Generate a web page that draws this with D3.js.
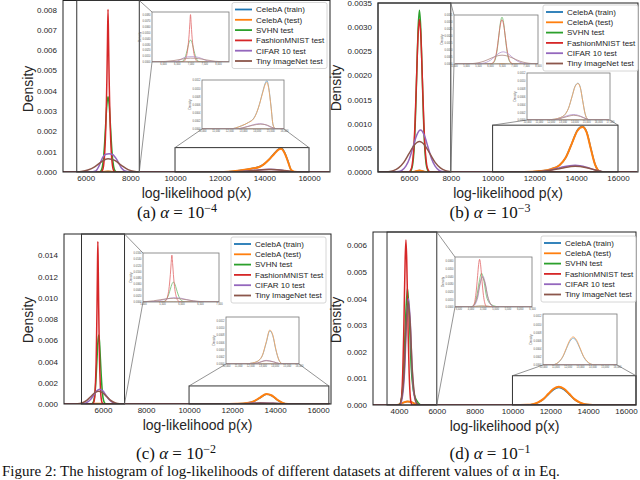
<!DOCTYPE html>
<html>
<head>
<meta charset="utf-8">
<script src="https://cdn.jsdelivr.net/npm/d3@7"></script>
<style>
  body { margin: 0; background: #fff; }
  svg { display: block; }
</style>
</head>
<body>
<svg id="fig" width="640" height="480"></svg>
<script>
// series (same order in every panel)
const names = ["CelebA (train)", "CelebA (test)", "SVHN test", "FashionMNIST test", "CIFAR 10 test", "Tiny ImageNet test"];
const colors = ["#1f77b4", "#ff7f0e", "#2ca02c", "#d62728", "#9467bd", "#8c564b"];
const alphaExps = ["−4", "−3", "−2", "−1"];
const letters = ["a", "b", "c", "d"];

// density curves, [log-likelihood, density]
// (a) alpha = 1e-4
const trainA = [[5000,0],[6700,0],[7000,0.00002],[7300,0],[12000,0],[12900,0.00008],[13400,0.00016],[13800,0.00027],[14000,0.0004],[14200,0.0006],[14450,0.00092],[14650,0.00114],[14750,0.00118],[14900,0.00098],[15050,0.00056],[15200,0.0001],[15350,0.00001],[15600,0],[16900,0]];
const testA = [[5000,0],[6700,0],[7000,0.00002],[7300,0],[12000,0],[12900,0.00008],[13400,0.00016],[13800,0.00026],[14000,0.0004],[14200,0.0006],[14450,0.0009],[14650,0.00111],[14750,0.00114],[14900,0.00095],[15050,0.00054],[15200,0.0001],[15350,0.00001],[15600,0],[16900,0]];
const svhnA = [[5000,0],[6600,0],[6650,0.00002],[6700,0.00009],[6750,0.00028],[6800,0.00071],[6850,0.00146],[6900,0.00245],[6950,0.00334],[7000,0.0037],[7050,0.00334],[7100,0.00245],[7150,0.00146],[7200,0.00071],[7250,0.00028],[7300,0.00009],[7350,0.00002],[7400,0],[16900,0]];
const fashionA = [[5000,0],[6680,0],[6740,0.00005],[6800,0.0003],[6850,0.0009],[6900,0.0022],[6925,0.0033],[6950,0.0046],[6975,0.0064],[7000,0.008],[7025,0.0064],[7050,0.0046],[7075,0.0033],[7100,0.0022],[7150,0.0009],[7200,0.0003],[7260,0.00005],[7320,0],[16900,0]];
const cifarA = [[5000,0],[6200,0],[6450,0.00005],[6600,0.0003],[6750,0.0007],[6900,0.00087],[7050,0.0009],[7200,0.00086],[7400,0.0006],[7600,0.0002],[7850,0.00002],[8100,0],[12500,0],[13000,0.00003],[13600,0.00009],[14200,0.00013],[14700,0.0001],[15100,0.00003],[15500,0],[16900,0]];
const tinyA = [[5000,0],[5500,0],[5800,0.00003],[6100,0.0001],[6400,0.00025],[6700,0.0005],[7000,0.00065],[7300,0.00057],[7600,0.00033],[7900,0.00012],[8200,0.00003],[8500,0],[12400,0],[13000,0.00003],[13700,0.00009],[14300,0.00012],[14800,0.00009],[15200,0.00003],[15600,0],[16900,0]];

// (b) alpha = 1e-3
const trainB = [[4550,0],[6200,0],[6500,0.00003],[6800,0],[11500,0],[12300,0.00002],[12800,0.00006],[13200,0.00014],[13500,0.0003],[13800,0.0006],[14050,0.00086],[14300,0.00094],[14500,0.00083],[14700,0.00049],[14900,0.00016],[15100,0.00002],[15300,0],[16900,0]];
const testB = [[4550,0],[6200,0],[6500,0.00003],[6800,0],[11500,0],[12300,0.00002],[12800,0.00006],[13200,0.00014],[13500,0.0003],[13800,0.0006],[14050,0.00085],[14300,0.00093],[14500,0.00082],[14700,0.00048],[14900,0.00016],[15100,0.00002],[15300,0],[16900,0]];
const svhnB = [[4550,0],[6050,0],[6110,0.00004],[6175,0.00015],[6240,0.00045],[6305,0.00109],[6370,0.00203],[6435,0.00296],[6500,0.00335],[6565,0.00296],[6630,0.00203],[6695,0.00109],[6760,0.00045],[6825,0.00015],[6890,0.00004],[6950,0],[16900,0]];
const fashionB = [[4550,0],[6000,0],[6080,0.00004],[6150,0.00014],[6220,0.00043],[6290,0.00103],[6360,0.00192],[6430,0.00279],[6500,0.00316],[6570,0.00279],[6640,0.00192],[6710,0.00103],[6780,0.00043],[6850,0.00014],[6920,0.00004],[7000,0],[16900,0]];
const cifarB = [[4550,0],[5350,0],[5500,0.00001],[5675,0.00004],[5850,0.00012],[6025,0.00028],[6200,0.00053],[6375,0.00077],[6550,0.00087],[6725,0.00077],[6900,0.00053],[7075,0.00028],[7250,0.00012],[7425,0.00004],[7600,0.00001],[7750,0],[12000,0],[12700,0.00003],[13300,0.0001],[13950,0.00014],[14500,0.0001],[15000,0.00003],[15400,0],[16900,0]];
const tinyB = [[4550,0],[4800,0.000002],[5000,0.000007],[5250,0.000028],[5500,0.000085],[5750,0.0002],[6000,0.00038],[6250,0.000556],[6500,0.00063],[6750,0.000556],[7000,0.00038],[7250,0.0002],[7500,0.000085],[7750,0.000028],[8000,0.000007],[8300,0],[12000,0],[12700,0.00003],[13300,0.00008],[13950,0.00012],[14500,0.00009],[15000,0.00003],[15400,0],[16900,0]];

// (c) alpha = 1e-2
const trainC = [[4200,0],[5500,0],[5800,0.00003],[6100,0],[11500,0],[12200,0.00003],[12700,0.0001],[13000,0.00024],[13300,0.00058],[13600,0.00092],[13850,0.00078],[14100,0.00039],[14350,0.00011],[14600,0.00001],[14800,0],[16550,0]];
const testC = [[4200,0],[5500,0],[5800,0.00003],[6100,0],[11500,0],[12200,0.00003],[12700,0.0001],[13000,0.00025],[13300,0.0006],[13600,0.00094],[13850,0.0008],[14100,0.0004],[14350,0.00011],[14600,0.00001],[14800,0],[16550,0]];
const svhnC = [[4200,0],[5440,0],[5500,0.00005],[5570,0.0003],[5630,0.0011],[5680,0.0026],[5720,0.0042],[5760,0.0058],[5800,0.0065],[5840,0.0058],[5880,0.0042],[5920,0.0026],[5970,0.0011],[6030,0.0003],[6100,0.00005],[6160,0],[16550,0]];
const fashionC = [[4200,0],[5500,0],[5560,0.0001],[5610,0.0006],[5650,0.002],[5680,0.004],[5700,0.0062],[5720,0.009],[5740,0.0125],[5760,0.0153],[5780,0.0125],[5800,0.009],[5820,0.0062],[5840,0.004],[5870,0.002],[5910,0.0006],[5960,0.0001],[6020,0],[16550,0]];
const cifarC = [[4200,0],[5000,0],[5150,0.00006],[5290,0.00019],[5430,0.00045],[5570,0.00085],[5710,0.00124],[5850,0.0014],[5990,0.00124],[6130,0.00085],[6270,0.00045],[6410,0.00019],[6550,0.00006],[6700,0.00001],[6850,0],[12000,0],[12600,0.00003],[13300,0.0001],[13900,0.00006],[14400,0.00001],[14700,0],[16550,0]];
const tinyC = [[4200,0],[4700,0.00001],[4925,0.00005],[5100,0.00016],[5275,0.00039],[5450,0.00073],[5625,0.00106],[5800,0.0012],[5975,0.00106],[6150,0.00073],[6325,0.00039],[6500,0.00016],[6675,0.00005],[6900,0.00001],[7100,0],[12000,0],[12600,0.00003],[13300,0.00009],[13900,0.00006],[14400,0.00001],[14700,0],[16550,0]];

// (d) alpha = 1e-1
const trainD = [[2650,0],[3900,0],[4200,0.00008],[4450,0.00013],[4700,0.0001],[4900,0.00002],[5100,0],[10000,0],[10800,0.000007],[11075,0.00003],[11350,0.00009],[11625,0.00021],[11900,0.0004],[12175,0.00058],[12450,0.00066],[12725,0.00058],[13000,0.0004],[13275,0.00021],[13550,0.00009],[13825,0.00003],[14100,0.000007],[14400,0],[16500,0]];
const testD = [[2650,0],[3900,0],[4200,0.00008],[4450,0.00013],[4700,0.0001],[4900,0.00002],[5100,0],[10000,0],[10800,0.000007],[11075,0.00003],[11350,0.0001],[11625,0.00022],[11900,0.00042],[12175,0.00061],[12450,0.00069],[12725,0.00061],[13000,0.00042],[13275,0.00022],[13550,0.0001],[13825,0.00003],[14100,0.000007],[14400,0],[16500,0]];
const svhnD = [[2650,0],[4000,0],[4150,0.0003],[4250,0.0013],[4350,0.0032],[4450,0.0044],[4550,0.0033],[4650,0.0014],[4750,0.0006],[4850,0.0003],[5000,0.0001],[5200,0],[16500,0]];
const fashionD = [[2650,0],[4030,0],[4090,0.00007],[4150,0.0004],[4200,0.0012],[4250,0.0026],[4290,0.0041],[4330,0.0055],[4370,0.0062],[4410,0.0055],[4450,0.0041],[4490,0.0026],[4540,0.0012],[4590,0.0004],[4650,0.00007],[4710,0],[16500,0]];
const cifarD = [[2650,0],[4050,0],[4200,0.0004],[4300,0.0013],[4400,0.0031],[4500,0.004],[4600,0.0031],[4700,0.0013],[4800,0.0004],[4950,0.00005],[5100,0],[16500,0]];
const tinyD = [[2650,0],[4000,0],[4150,0.0003],[4270,0.0012],[4380,0.003],[4480,0.0039],[4590,0.0031],[4700,0.0014],[4820,0.0004],[4950,0.00006],[5100,0],[16500,0]];

const curvesA = [trainA, testA, svhnA, fashionA, cifarA, tinyA];
const curvesB = [trainB, testB, svhnB, fashionB, cifarB, tinyB];
const curvesC = [trainC, testC, svhnC, fashionC, cifarC, tinyC];
const curvesD = [trainD, testD, svhnD, fashionD, cifarD, tinyD];

// tick labels
const xTicksAB = [6000, 8000, 10000, 12000, 14000, 16000];
const xTicksC = [6000, 8000, 10000, 12000, 14000, 16000];
const xTicksD = [4000, 6000, 8000, 10000, 12000, 14000, 16000];
const yTicksA = [0, 0.001, 0.002, 0.003, 0.004, 0.005, 0.006, 0.007, 0.008];
const yTicksB = [0, 0.0005, 0.001, 0.0015, 0.002, 0.0025, 0.003, 0.0035];
const yTicksC = [0, 0.002, 0.004, 0.006, 0.008, 0.010, 0.012, 0.014];
const yTicksD = [0, 0.001, 0.002, 0.003, 0.004, 0.005, 0.006];

// layout of the four panels
const panels = [
  { curves: curvesA, xTicks: xTicksAB, yTicks: yTicksA, yFmt: ".3f",
    left: 63, right: 330, top: 0.5, bottom: 172, xDomain: [4984, 16940], yMax: 0.00844,
    r1: [5600, 8400, 0.00844], in1: { x: 152, y: 12, w: 77, h: 50, xd: [5600, 8400], yMax: 0.00844 },
    r2: [10000, 16000, 0.0012], in2: { x: 202, y: 80, w: 82, h: 49, xd: [10000, 16000], yMax: 0.0012 },
    legend: [232, 2.5], ylab: [27.5, 89], cap: [177, 218] },
  { curves: curvesB, xTicks: xTicksAB, yTicks: yTicksB, yFmt: ".4f",
    left: 378, right: 638, top: 3, bottom: 172, xDomain: [4517, 16957], yMax: 0.0035,
    r1: [4517, 8000, 0.0035], in1: { x: 454, y: 15, w: 84, h: 49, xd: [4500, 8000], yMax: 0.0035 },
    r2: [10000, 16000, 0.00097], in2: { x: 527, y: 73, w: 83, h: 47, xd: [10000, 17000], yMax: 0.0012 },
    legend: [543, 5], ylab: [335.5, 88], cap: [490, 218] },
  { curves: curvesC, xTicks: xTicksC, yTicks: yTicksC, yFmt: ".3f",
    left: 64, right: 331, top: 234, bottom: 404, xDomain: [4186, 16600], yMax: 0.016,
    r1: [5000, 7000, 0.016], in1: { x: 143, y: 253, w: 76, h: 49, xd: [5000, 7000], yMax: 0.016 },
    r2: [10000, 16500, 0.0017], in2: { x: 226, y: 317, w: 73, h: 47, xd: [10000, 16000], yMax: 0.0013 },
    legend: [231, 237], ylab: [27.5, 320], cap: [176, 459] },
  { curves: curvesD, xTicks: xTicksD, yTicks: yTicksD, yFmt: ".3f",
    left: 373, right: 636, top: 232, bottom: 405, xDomain: [2629, 16530], yMax: 0.0065,
    r1: [3370, 6000, 0.0065], in1: { x: 455, y: 257, w: 77, h: 50, xd: [3370, 6500], yMax: 0.0065 },
    r2: [10000, 16530, 0.0011], in2: { x: 543, y: 314, w: 74, h: 51, xd: [10000, 16000], yMax: 0.00125 },
    legend: [541, 236], ylab: [335.5, 320], cap: [490, 459] }
];

const SANS = "'Liberation Sans', Arial, sans-serif";
const SERIF = "'Liberation Serif', 'Times New Roman', serif";
const svg = d3.select("#fig");
const defs = svg.append("defs");
let clipCount = 0;

function clipRect(x, y, w, h) {
  const id = "clip" + (clipCount++);
  defs.append("clipPath").attr("id", id)
    .append("rect").attr("x", x).attr("y", y).attr("width", w).attr("height", h);
  return "url(#" + id + ")";
}

function drawInset(p, ins) {
  const x = d3.scaleLinear().domain(ins.xd).range([ins.x, ins.x + ins.w]);
  const y = d3.scaleLinear().domain([0, ins.yMax]).range([ins.y + ins.h, ins.y]);
  const line = d3.line().x(d => x(d[0])).y(d => y(d[1])).curve(d3.curveMonotoneX);
  const g = svg.append("g");
  g.append("rect").attr("x", ins.x).attr("y", ins.y).attr("width", ins.w).attr("height", ins.h)
    .attr("fill", "#fff");
  // faded lines: the whole group is made lighter, so the top line keeps its own colour
  const cg = g.append("g").attr("clip-path", clipRect(ins.x, ins.y, ins.w, ins.h))
    .attr("opacity", 0.7);
  p.curves.forEach((c, i) => {
    cg.append("path").attr("d", line(c)).attr("fill", "none")
      .attr("stroke", colors[i]).attr("stroke-width", 0.8);
  });
  g.append("rect").attr("x", ins.x).attr("y", ins.y).attr("width", ins.w).attr("height", ins.h)
    .attr("fill", "none").attr("stroke", "#777").attr("stroke-width", 0.8);
  // tiny tick labels
  const xa = g.append("g").attr("transform", `translate(0,${ins.y + ins.h})`)
    .call(d3.axisBottom(x).ticks(6).tickSize(0).tickPadding(1.5));
  xa.select(".domain").remove();
  xa.attr("font-size", 2.6).attr("font-family", SANS).selectAll("text").attr("fill", "#555");
  const ya = g.append("g").attr("transform", `translate(${ins.x},0)`)
    .call(d3.axisLeft(y).ticks(8).tickSize(0).tickPadding(1.5).tickFormat(d3.format(".4f")));
  ya.select(".domain").remove();
  ya.attr("font-size", 2.6).attr("font-family", SANS).selectAll("text").attr("fill", "#555");
  g.append("text").attr("transform", `translate(${ins.x - 11},${ins.y + ins.h / 2}) rotate(-90)`)
    .attr("text-anchor", "middle").attr("font-size", 3).attr("font-family", SANS)
    .attr("fill", "#555").text("Density");
}

function drawLegend(lx, ly) {
  const g = svg.append("g");
  g.append("rect").attr("x", lx).attr("y", ly).attr("width", 95).attr("height", 66)
    .attr("rx", 2).attr("fill", "#fff").attr("fill-opacity", 0.9)
    .attr("stroke", "#ccc").attr("stroke-width", 0.8);
  names.forEach((n, i) => {
    const yy = ly + 7 + i * 10.3;
    g.append("line").attr("x1", lx + 3).attr("x2", lx + 20).attr("y1", yy).attr("y2", yy)
      .attr("stroke", colors[i]).attr("stroke-width", 1.8);
    g.append("text").attr("x", lx + 24).attr("y", yy + 2.8)
      .attr("font-size", 8).attr("font-family", SANS).attr("fill", "#262626").text(n);
  });
}

function drawPanel(p, k) {
  const x = d3.scaleLinear().domain(p.xDomain).range([p.left, p.right]);
  const y = d3.scaleLinear().domain([0, p.yMax]).range([p.bottom, p.top]);
  const line = d3.line().x(d => x(d[0])).y(d => y(d[1])).curve(d3.curveMonotoneX);
  const g = svg.append("g");

  const cg = g.append("g").attr("clip-path", clipRect(p.left, p.top, p.right - p.left, p.bottom - p.top));
  p.curves.forEach((c, i) => {
    cg.append("path").attr("d", line(c)).attr("fill", "none")
      .attr("stroke", colors[i]).attr("stroke-width", i === 1 ? 2 : 1.5);
  });

  // axes
  const xa = g.append("g").attr("transform", `translate(0,${p.bottom})`)
    .call(d3.axisBottom(x).tickValues(p.xTicks).tickFormat(d3.format("d")).tickSize(0).tickPadding(3));
  xa.select(".domain").remove();
  xa.attr("font-size", 8).attr("font-family", SANS).selectAll("text").attr("fill", "#262626");
  const ya = g.append("g").attr("transform", `translate(${p.left},0)`)
    .call(d3.axisLeft(y).tickValues(p.yTicks).tickFormat(d3.format(p.yFmt)).tickSize(0).tickPadding(6));
  ya.select(".domain").remove();
  ya.attr("font-size", 8).attr("font-family", SANS).selectAll("text").attr("fill", "#262626");

  g.append("rect").attr("x", p.left).attr("y", p.top)
    .attr("width", p.right - p.left).attr("height", p.bottom - p.top)
    .attr("fill", "none").attr("stroke", "#222").attr("stroke-width", 1);

  g.append("text").attr("transform", `translate(${p.ylab[0]},${p.ylab[1]}) rotate(-90)`)
    .attr("text-anchor", "middle").attr("dominant-baseline", "central")
    .attr("font-size", 14).attr("font-family", SANS).attr("fill", "#262626").text("Density");
  g.append("text").attr("x", (p.left + p.right) / 2).attr("y", p.bottom + 26)
    .attr("text-anchor", "middle").attr("font-size", 14).attr("font-family", SANS)
    .attr("fill", "#262626").text("log-likelihood p(x)");

  // zoom boxes
  const r1 = { x0: x(p.r1[0]), x1: x(p.r1[1]), y0: y(p.r1[2]), y1: y(0) };
  const r2 = { x0: x(p.r2[0]), x1: x(p.r2[1]), y0: y(p.r2[2]), y1: y(0) };
  [r1, r2].forEach(r => {
    g.append("rect").attr("x", r.x0).attr("y", r.y0).attr("width", r.x1 - r.x0).attr("height", r.y1 - r.y0)
      .attr("fill", "none").attr("stroke", "#333").attr("stroke-width", 1);
  });

  // connector lines
  const i1 = p.in1, i2 = p.in2;
  const conn = [
    [r1.x1, r1.y0, i1.x, i1.y], [r1.x1, r1.y1, i1.x, i1.y + i1.h],
    [r2.x0, r2.y0, i2.x, i2.y + i2.h], [r2.x1, r2.y0, i2.x + i2.w, i2.y + i2.h]
  ];
  conn.forEach(c => {
    g.append("line").attr("x1", c[0]).attr("y1", c[1]).attr("x2", c[2]).attr("y2", c[3])
      .attr("stroke", "#666").attr("stroke-width", 0.7);
  });

  drawInset(p, i1);
  drawInset(p, i2);
  drawLegend(p.legend[0], p.legend[1]);

  // sub caption
  const cap = svg.append("text").attr("x", p.cap[0]).attr("y", p.cap[1])
    .attr("text-anchor", "middle").attr("font-family", SERIF).attr("font-size", 17).attr("fill", "#111");
  cap.append("tspan").text("(" + letters[k] + ") ");
  cap.append("tspan").attr("font-style", "italic").text("α");
  cap.append("tspan").text(" = 10");
  cap.append("tspan").attr("font-size", 12).attr("dy", -6).text(alphaExps[k]);
}

panels.forEach((p, k) => drawPanel(p, k));

// figure caption at the bottom edge
svg.append("text").attr("x", 2).attr("y", 476)
  .attr("font-family", SERIF).attr("font-size", 15).attr("fill", "#111")
  .text("Figure 2: The histogram of log-likelihoods of different datasets at different values of α in Eq.");
</script>
</body>
</html>
